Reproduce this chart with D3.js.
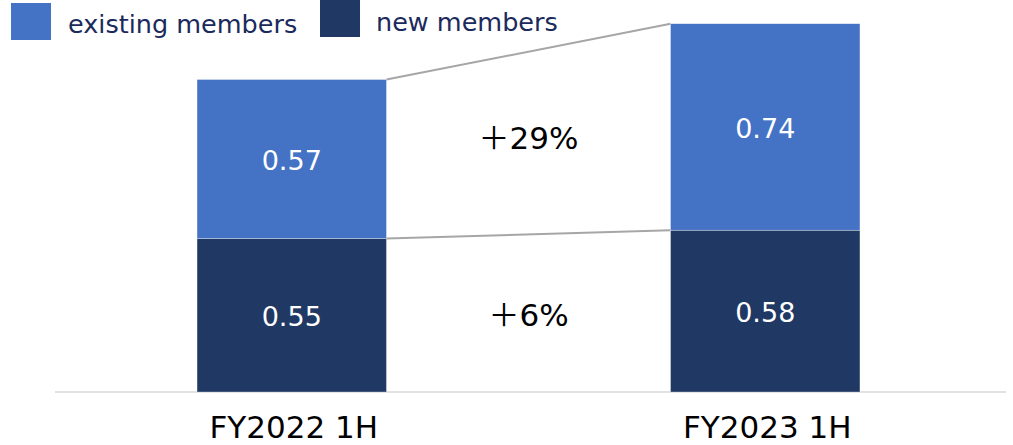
<!DOCTYPE html>
<html>
<head>
<meta charset="utf-8">
<script src="https://cdn.jsdelivr.net/npm/d3@7"></script>
<style>
  html, body { margin: 0; padding: 0; background: #fff; }
  svg { display: block; font-family: "DejaVu Sans", Verdana, sans-serif; }
</style>
</head>
<body>
<svg id="chart" width="1013" height="445"></svg>
<script>
const categories = ["FY2022 1H", "FY2023 1H"];
const seriesNames = ["new members", "existing members"];
const newMembers = [0.55, 0.58];
const existingMembers = [0.57, 0.74];
const growthLabels = ["＋6%", "＋29%"];
const legendOrder = ["existing members", "new members"];

const colors = { "existing members": "#4472C4", "new members": "#203864" };

const svg = d3.select("#chart");

const x = d3.scaleBand().domain(categories).range([55, 1002]).paddingInner(0.6).paddingOuter(0.3);
const y = d3.scaleLinear().domain([0, 1.4]).range([392, 1.4]);

const rows = categories.map((c, i) => ({ cat: c, "new members": newMembers[i], "existing members": existingMembers[i] }));
const stack = d3.stack().keys(seriesNames)(rows);

// axis baseline
svg.append("line")
  .attr("x1", 55).attr("x2", 1006)
  .attr("y1", y(0)).attr("y2", y(0))
  .attr("stroke", "#D9D9D9").attr("stroke-width", 1.5);

// connector lines
const levels = stack.map(s => s.map(d => d[1]));
levels.forEach(lv => {
  svg.append("line")
    .attr("x1", x(categories[0]) + x.bandwidth()).attr("y1", y(lv[0]))
    .attr("x2", x(categories[1])).attr("y2", y(lv[1]))
    .attr("stroke", "#A6A6A6").attr("stroke-width", 2);
});

// bars
const g = svg.append("g");
stack.forEach(s => {
  g.selectAll(null).data(s).enter().append("rect")
    .attr("x", d => x(d.data.cat))
    .attr("width", x.bandwidth())
    .attr("y", d => y(d[1]))
    .attr("height", d => y(d[0]) - y(d[1]))
    .attr("fill", colors[s.key])
    .attr("stroke", "#fff").attr("stroke-width", 0.5).attr("stroke-opacity", 0.6);
  g.selectAll(null).data(s).enter().append("text")
    .attr("x", d => x(d.data.cat) + x.bandwidth() / 2)
    .attr("y", d => (y(d[0]) + y(d[1])) / 2 + 11)
    .attr("text-anchor", "middle")
    .attr("font-size", 27)
    .attr("fill", "#fff")
    .text(d => d.data[s.key].toFixed(2));
});

// growth labels
const midX = (x(categories[0]) + x.bandwidth() + x(categories[1])) / 2;
stack.forEach((s, i) => {
  const ym = d3.mean(s, d => (y(d[0]) + y(d[1])) / 2);
  svg.append("text")
    .attr("x", midX)
    .attr("y", ym + (i === 1 ? 6 : 13))
    .attr("text-anchor", "middle")
    .attr("font-size", 31)
    .attr("fill", "#000")
    .style("font-family", '"DejaVu Sans", "Noto Sans CJK JP", sans-serif')
    .text(growthLabels[i]);
});

// category labels
svg.selectAll(".cat").data(categories).enter().append("text")
  .attr("x", d => x(d) + x.bandwidth() / 2 + 2)
  .attr("y", 438)
  .attr("text-anchor", "middle")
  .attr("font-size", 31)
  .attr("fill", "#000")
  .text(d => d);

// legend
const legendPos = [{ sx: 11, sy: 3, tx: 68, ty: 33 }, { sx: 320, sy: 0, tx: 376, ty: 31 }];
legendOrder.forEach((k, i) => {
  const p = legendPos[i];
  svg.append("rect").attr("x", p.sx).attr("y", p.sy).attr("width", 40).attr("height", 37).attr("fill", colors[k]);
  svg.append("text").attr("x", p.tx).attr("y", p.ty).attr("font-size", 25.5).attr("fill", "#1B2A5C").text(k);
});
</script>
</body>
</html>
